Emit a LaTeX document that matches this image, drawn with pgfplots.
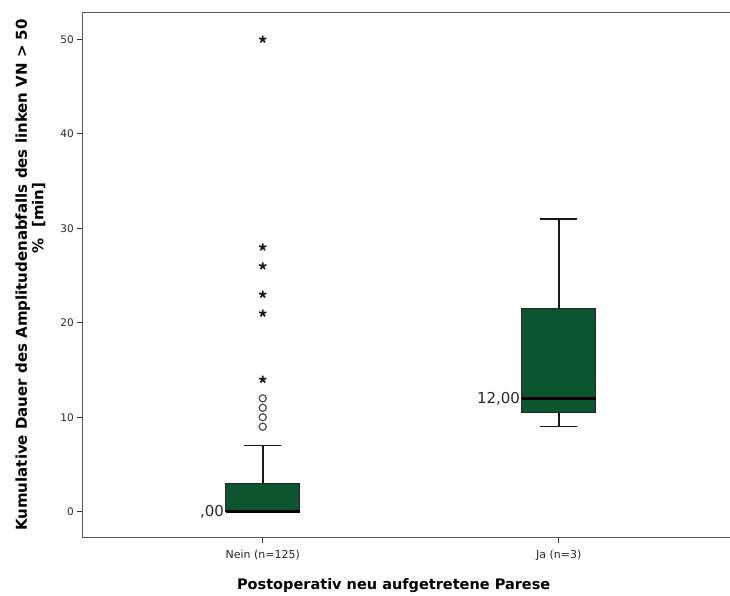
\documentclass[border=0pt]{standalone}
\usepackage{pgfplots}
\pgfplotsset{compat=1.18}
\usepgfplotslibrary{statistics}
\usepackage{fontspec}
\setmainfont{DejaVu Sans}
\definecolor{boxgreen}{RGB}{12,83,47}
\definecolor{txt}{RGB}{40,40,40}
\begin{document}
\begin{tikzpicture}
\useasboundingbox (0pt,0pt) rectangle (730pt,595pt);
\begin{axis}[
  at={(82.3pt,57.3pt)}, anchor=south west,
  scale only axis, width=648.7pt, height=525.4pt,
  xmin=0.3905, xmax=2.582,
  ymin=-2.75, ymax=52.86,
  xtick={1,2}, xticklabels={Nein (n=125), Ja (n=3)},
  ytick={0,10,20,30,40,50},
  tick align=outside, xtick pos=lower, ytick pos=left,
  major tick length=5pt,
  tick style={black!80, line width=0.9pt},
  axis line style={black!65, line width=1pt},
  /pgf/number format/assume math mode=true,
  x tick label style={font=\fontsize{11}{13}\selectfont, text=txt, yshift=-4pt},
  y tick label style={font=\fontsize{10.5}{12}\selectfont, text=txt},
  xlabel={Postoperativ neu aufgetretene Parese},
  xlabel style={font=\fontsize{14.5}{17}\bfseries\selectfont, at={(axis description cs:0.48,0)}, anchor=center, yshift=-48pt},
  ylabel={Kumulative Dauer des Amplitudenabfalls des linken VN > 50\\\hspace*{114pt}\% \ [min]},
  every axis y label/.style={at={(axis description cs:-0.08,0.5)}, rotate=90, anchor=center,
     align=center, font=\fontsize{15}{16.5}\bfseries\selectfont},
  boxplot/draw direction=y,
  boxplot/box extend=0.25,
  boxplot/whisker extend=0.125,
  boxplot/every median/.style={black, line width=3pt},
  boxplot/every whisker/.style={black!90, line width=1.6pt},
  boxplot/every box/.style={draw=black!85, line width=1pt, fill=boxgreen},
  clip=false,
]
\addplot+[boxplot prepared={median=0, lower quartile=0, upper quartile=3, lower whisker=0, upper whisker=7, draw position=1},
  fill=boxgreen, draw=black!85, mark=none, solid] coordinates {};
\addplot+[boxplot prepared={median=12, lower quartile=10.5, upper quartile=21.5, lower whisker=9, upper whisker=31, draw position=2},
  fill=boxgreen, draw=black!85, mark=none, solid] coordinates {};
\addplot[only marks, mark=o, mark size=3.6pt, draw=black!70, line width=1.2pt] coordinates {(1,9) (1,10) (1,11) (1,12)};
\addplot[only marks, mark=star, mark size=3.8pt, draw=black!90, line width=1.7pt] coordinates {(1,14) (1,21) (1,23) (1,26) (1,28) (1,50)};
\node[anchor=east, inner sep=1.5pt, font=\fontsize{15}{17}\selectfont, text=txt] at (axis cs:0.875,0) {,00};
\node[anchor=east, inner sep=1.5pt, font=\fontsize{15}{17}\selectfont, text=txt] at (axis cs:1.875,12) {12,00};
\end{axis}
\end{tikzpicture}
\end{document}
